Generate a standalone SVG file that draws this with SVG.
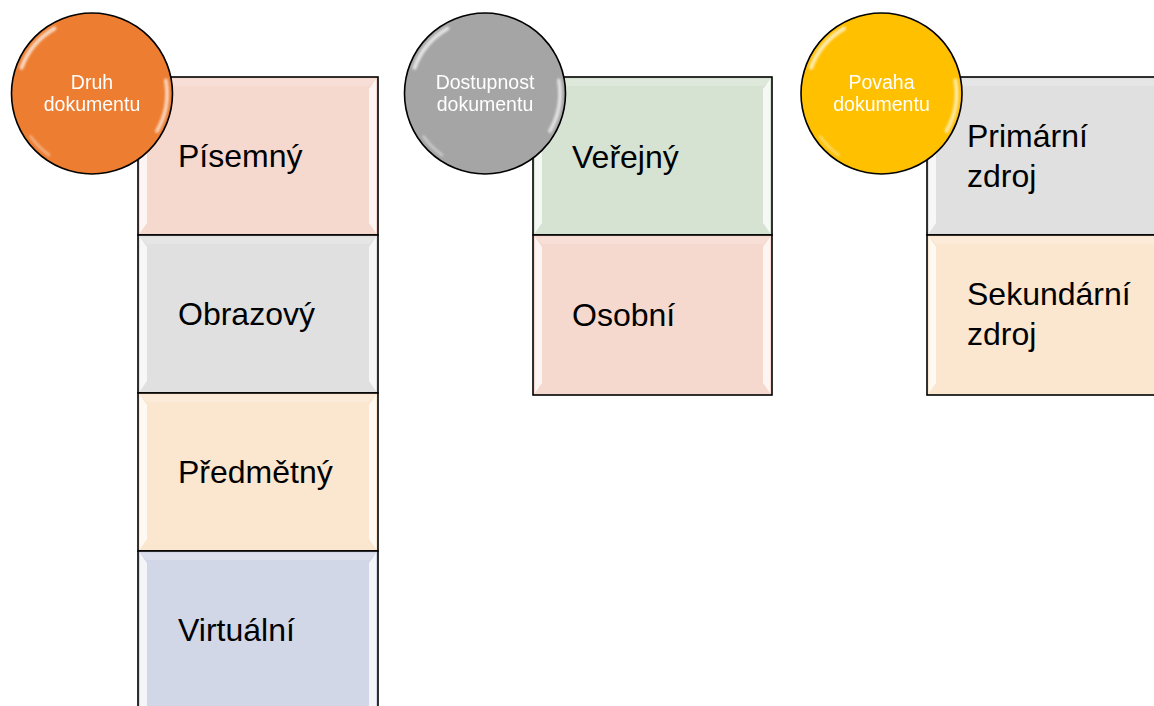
<svg xmlns="http://www.w3.org/2000/svg" xmlns:xlink="http://www.w3.org/1999/xlink" width="1154" height="706" viewBox="0 0 1154 706">
<style>
.box{stroke:#000;stroke-width:1.6}
.pink{fill:#F5D8CE}
.gray{fill:#E0E0E0}
.peach{fill:#FBE6CF}
.blue{fill:#D2D7E8}
.green{fill:#D6E3D3}
.bev{fill:#fff;opacity:0.75}
.bevt{fill:#fff;opacity:0.2}
.bt{font-family:"Liberation Sans",Arial,sans-serif;font-size:32px;fill:#000}
.ct{font-family:"Liberation Sans",Arial,sans-serif;font-size:19.5px;fill:#fff;text-anchor:middle}
.circ{stroke:#000;stroke-width:1.6}
</style>
<defs>
<filter id="blur" x="-20%" y="-20%" width="140%" height="140%"><feGaussianBlur stdDeviation="1.3"/></filter>
<g id="gloss" fill="none" stroke="#fff" stroke-linecap="round" filter="url(#blur)">
<path d="M -70.5 -25.7 A 75 75 0 0 1 -37.5 -65" stroke-width="4" opacity="0.7"/>
<path d="M 73.9 -13 A 75 75 0 0 1 65 37.5" stroke-width="4" opacity="0.65"/>
<path d="M -43 61.4 A 75 75 0 0 1 -61.4 43" stroke-width="3" opacity="0.4"/>
</g>
</defs>

<g id="connectors"/>

<!-- Column 1 boxes -->
<g id="box-pisemny">
<rect class="box pink" x="138" y="77" width="240" height="158"/>
<polygon class="bev" points="140,79 147,89 147,223 140,233"/>
<polygon class="bev" points="376,79 369,89 369,223 376,233"/>
<polygon class="bevt" points="140,79 376,79 369,86 147,86"/>
<text class="bt" x="178" y="167">Písemný</text>
</g>
<g id="box-obrazovy">
<rect class="box gray" x="138" y="235" width="240" height="158"/>
<polygon class="bev" points="140,237 147,247 147,381 140,391"/>
<polygon class="bev" points="376,237 369,247 369,381 376,391"/>
<polygon class="bevt" points="140,237 376,237 369,244 147,244"/>
<text class="bt" x="178" y="325">Obrazový</text>
</g>
<g id="box-predmetny">
<rect class="box peach" x="138" y="393" width="240" height="158"/>
<polygon class="bev" points="140,395 147,405 147,539 140,549"/>
<polygon class="bev" points="376,395 369,405 369,539 376,549"/>
<polygon class="bevt" points="140,395 376,395 369,402 147,402"/>
<text class="bt" x="178" y="483">Předmětný</text>
</g>
<g id="box-virtualni">
<rect class="box blue" x="138" y="551" width="240" height="160"/>
<polygon class="bev" points="140,553 147,563 147,706 140,706"/>
<polygon class="bev" points="376,553 369,563 369,706 376,706"/>
<polygon class="bevt" points="140,553 376,553 369,560 147,560"/>
<text class="bt" x="178" y="641">Virtuální</text>
</g>

<!-- Column 2 boxes -->
<g id="box-verejny">
<rect class="box green" x="533" y="77" width="239" height="158"/>
<polygon class="bev" points="535,79 542,89 542,223 535,233"/>
<polygon class="bev" points="770,79 763,89 763,223 770,233"/>
<polygon class="bevt" points="535,79 770,79 763,86 542,86"/>
<text class="bt" x="572" y="168">Veřejný</text>
</g>
<g id="box-osobni">
<rect class="box pink" x="533" y="235" width="239" height="160"/>
<polygon class="bev" points="535,237 542,247 542,383 535,393"/>
<polygon class="bev" points="770,237 763,247 763,383 770,393"/>
<polygon class="bevt" points="535,237 770,237 763,244 542,244"/>
<text class="bt" x="572" y="326">Osobní</text>
</g>

<!-- Column 3 boxes -->
<g id="box-primarni">
<rect class="box gray" x="927" y="77" width="240" height="158"/>
<polygon class="bev" points="929,79 936,89 936,223 929,233"/>
<polygon class="bevt" points="929,79 1160,79 1160,86 936,86"/>
<text class="bt" x="967" y="147">Primární</text>
<text class="bt" x="967" y="187">zdroj</text>
</g>
<g id="box-sekundarni">
<rect class="box peach" x="927" y="235" width="240" height="160"/>
<polygon class="bev" points="929,237 936,247 936,383 929,393"/>
<polygon class="bevt" points="929,237 1160,237 1160,244 936,244"/>
<text class="bt" x="967" y="305">Sekundární</text>
<text class="bt" x="967" y="345">zdroj</text>
</g>

<!-- Circles -->
<g id="circle-druh">
<circle class="circ" cx="92" cy="93.5" r="80.5" fill="#ED7D31"/>
<use xlink:href="#gloss" href="#gloss" transform="translate(92,93.5)"/>
<text class="ct" x="92" y="89">Druh</text>
<text class="ct" x="92" y="111">dokumentu</text>
</g>
<g id="circle-dostupnost">
<circle class="circ" cx="485" cy="93.5" r="80.5" fill="#A5A5A5"/>
<use xlink:href="#gloss" href="#gloss" transform="translate(485,93.5)"/>
<text class="ct" x="485" y="89">Dostupnost</text>
<text class="ct" x="485" y="111">dokumentu</text>
</g>
<g id="circle-povaha">
<circle class="circ" cx="881.5" cy="93.5" r="80.5" fill="#FFC000"/>
<use xlink:href="#gloss" href="#gloss" transform="translate(881.5,93.5)"/>
<text class="ct" x="881.5" y="89">Povaha</text>
<text class="ct" x="881.5" y="111">dokumentu</text>
</g>
</svg>
